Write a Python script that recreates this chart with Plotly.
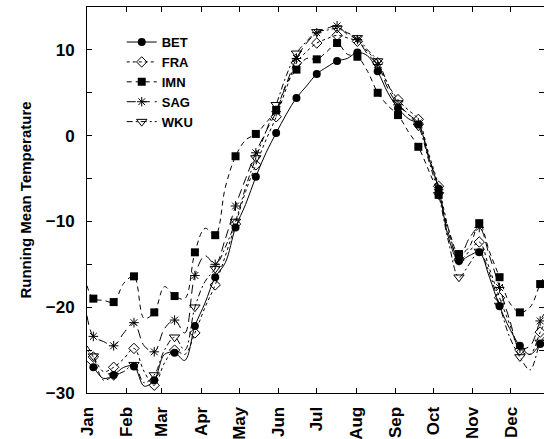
import plotly.graph_objects as go

# Day of year of each reading (markers on every other reading, starting at day 5)
DAYS = [0, 5, 13, 21, 29, 37, 45, 53, 61, 69, 77, 85, 93, 101, 109, 117, 125, 133,
        141, 149, 157, 165, 173, 181, 189, 197, 205, 213, 221, 229, 237, 245, 253,
        261, 269, 277, 285, 293, 301, 309, 317, 325, 333, 341, 349, 357, 360]

BET = [-26.3, -27.0, -28.3, -27.9, -27.0, -26.9, -29.2, -28.5, -25.5, -25.3, -26.2,
       -22.2, -19.5, -16.5, -14.8, -10.7, -8.0, -4.8, -2.0, 0.3, 2.5, 4.4, 5.8, 7.2,
       8.0, 8.7, 9.0, 9.7, 9.3, 7.5, 5.0, 3.2, 2.0, 1.3, -2.5, -6.2, -12.0, -14.6,
       -14.0, -13.6, -16.5, -19.9, -22.5, -24.5, -25.5, -24.3, -23.8]
FRA = [-25.0, -25.8, -27.5, -27.0, -26.0, -24.8, -27.5, -29.1, -26.5, -25.0, -25.5,
       -23.0, -20.0, -17.4, -14.0, -10.3, -6.5, -3.4, -0.5, 2.2, 5.5, 8.5, 9.8, 10.8,
       11.3, 11.7, 11.4, 11.0, 9.8, 8.5, 6.0, 4.2, 3.0, 1.9, -2.0, -5.9, -11.0, -14.5,
       -13.5, -12.4, -15.5, -18.9, -22.0, -25.0, -25.5, -22.9, -22.0]
IMN = [-17.5, -19.0, -19.2, -19.4, -17.2, -16.4, -21.3, -20.6, -17.6, -18.7, -19.0,
       -13.6, -10.8, -11.6, -6.0, -2.4, -0.5, 0.2, 1.5, 3.0, 6.0, 7.7, 9.0, 8.9,
       9.8, 10.8, 9.5, 9.2, 7.5, 5.0, 3.5, 2.4, 0.5, -1.3, -4.0, -6.9, -11.0, -13.8,
       -13.0, -10.2, -13.5, -16.5, -19.5, -20.6, -20.0, -17.3, -16.5]
SAG = [-21.0, -23.4, -24.0, -24.5, -23.0, -21.8, -24.5, -25.2, -22.5, -21.5, -23.0,
       -16.3, -14.0, -15.0, -12.0, -8.2, -5.0, -2.0, 0.5, 2.8, 6.0, 9.0, 10.8, 12.0,
       12.5, 12.8, 11.8, 11.2, 9.5, 8.3, 5.5, 3.6, 2.5, 1.5, -2.3, -6.3, -11.5, -14.3,
       -12.0, -10.7, -14.0, -17.7, -21.5, -24.8, -24.5, -21.6, -20.8]
WKU = [-24.5, -25.7, -28.5, -28.0, -27.5, -26.7, -28.8, -27.9, -25.0, -23.5, -25.0,
       -20.0, -17.0, -15.5, -13.0, -10.0, -6.0, -2.6, 0.5, 3.6, 7.0, 9.6, 11.0, 12.1,
       12.3, 12.5, 12.0, 11.4, 10.0, 8.7, 6.0, 3.8, 2.5, 1.1, -2.8, -6.9, -12.5, -16.5,
       -15.0, -13.5, -16.0, -19.8, -23.5, -25.8, -27.3, -24.1, -23.5]

MONTH_DAYS = [0, 31, 59, 90, 120, 151, 181, 212, 243, 273, 304, 334]
MONTHS = ["Jan", "Feb", "Mar", "Apr", "May", "Jun", "Jul", "Aug", "Sep", "Oct", "Nov", "Dec"]
Y_TICKS = [-30, -25, -20, -15, -10, -5, 0, 5, 10, 15]
Y_LABELS = ["\u221230", "", "\u221220", "", "\u221210", "", "0", "", "10", ""]

FONT = "Liberation Sans, Arial, Helvetica, sans-serif"

styles = [
    ("BET", BET, "solid", dict(symbol="circle", color="black", size=8)),
    ("FRA", FRA, "dot", dict(symbol="diamond-open", color="black", size=8,
                              line=dict(width=1, color="black"))),
    ("IMN", IMN, "5px,4px", dict(symbol="square", color="black", size=8)),
    ("SAG", SAG, "9px,5px", dict(symbol="asterisk-open", color="black", size=8,
                                  line=dict(width=1, color="black"))),
    ("WKU", WKU, "6px,3px,2px,3px", dict(symbol="triangle-down-open", color="black", size=9,
                                         line=dict(width=1, color="black"))),
]

fig = go.Figure()
for name, vals, dash, mk in styles:
    # smooth line through all readings
    fig.add_trace(go.Scatter(x=DAYS, y=vals, mode="lines", line_shape="spline",
                             line=dict(color="black", width=1, dash=dash, smoothing=1),
                             showlegend=False, hoverinfo="skip", legendgroup=name))
    # markers on every other reading, separated by gaps so no extra line is drawn
    mx, my = [], []
    for i in range(1, len(DAYS) - 1, 2):
        mx += [DAYS[i], None]
        my += [vals[i], None]
    fig.add_trace(go.Scatter(x=mx, y=my, mode="lines+markers", name=name,
                             connectgaps=False, legendgroup=name,
                             line=dict(color="black", width=1, dash=dash),
                             marker=mk))

fig.update_layout(
    width=544, height=439,
    margin=dict(l=87, r=0, t=7, b=46, autoexpand=False),
    paper_bgcolor="white", plot_bgcolor="white",
    font=dict(family=FONT, size=13, color="black"),
    legend=dict(x=0.076, y=0.948, xanchor="left", yanchor="top",
                bgcolor="rgba(0,0,0,0)", borderwidth=0,
                font=dict(family=FONT, size=13, weight="bold"),
                tracegroupgap=0, itemwidth=30),
)
fig.update_xaxes(range=[0, 360], tickvals=MONTH_DAYS, ticktext=MONTHS,
                 tickangle=-90, ticks="inside", ticklen=5, tickcolor="black",
                 showline=True, linecolor="black", linewidth=1, mirror="ticks",
                 showgrid=False, zeroline=False, automargin=False,
                 ticklabelstandoff=6,
                 tickfont=dict(family=FONT, size=17, weight="bold"))
fig.update_yaxes(range=[-30, 15], tickvals=Y_TICKS, ticktext=Y_LABELS,
                 ticks="inside", ticklen=5, tickcolor="black",
                 showline=True, linecolor="black", linewidth=1, mirror="ticks",
                 showgrid=False, zeroline=False, automargin=False,
                 ticklabelstandoff=8,
                 tickfont=dict(family=FONT, size=17, weight="bold"),
                 title=dict(text="Running Mean Temperature", standoff=10,
                            font=dict(family=FONT, size=15, weight="bold")))

fig.write_html("out.html", config={"displayModeBar": False},
               post_script="document.body.style.margin='0';document.body.style.overflow='hidden';")
